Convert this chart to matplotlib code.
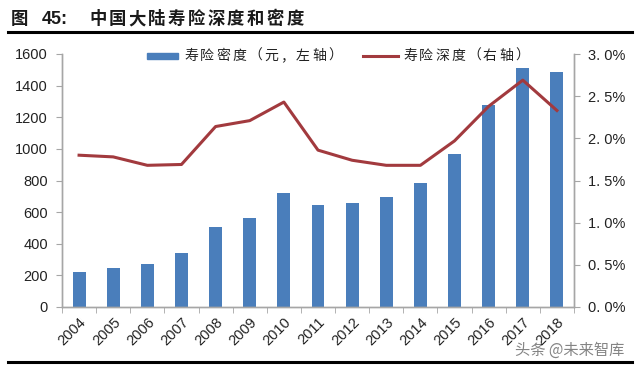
import matplotlib
matplotlib.use("Agg")
import matplotlib.pyplot as plt
from matplotlib.lines import Line2D
from matplotlib.patches import Rectangle
import numpy as np

plt.rcParams['font.family'] = ['Liberation Sans', 'Noto Sans CJK SC', 'DejaVu Sans']

years = ['2004', '2005', '2006', '2007', '2008', '2009', '2010', '2011',
         '2012', '2013', '2014', '2015', '2016', '2017', '2018']
density = [221, 248, 274, 340, 504, 565, 723, 646, 660, 698, 782, 965, 1277, 1514, 1487]
depth = [1.80, 1.78, 1.68, 1.69, 2.14, 2.21, 2.43, 1.86, 1.74, 1.68, 1.68, 1.97, 2.38, 2.69, 2.33]
left_ticks = [0, 200, 400, 600, 800, 1000, 1200, 1400, 1600]
right_ticks = [0.0, 0.5, 1.0, 1.5, 2.0, 2.5, 3.0]
right_labels = ['0. 0%', '0. 5%', '1. 0%', '1. 5%', '2. 0%', '2. 5%', '3. 0%']
title_num = '45:'
title_text = '中国大陆寿险深度和密度'
legend_bar = '寿险密度（元，左轴）'
legend_line = '寿险深度（右轴）'

W, H = 640, 365
fig = plt.figure(figsize=(W / 100, H / 100), dpi=100)
ax = fig.add_axes([62 / W, 1 - 307 / H, (574 - 62) / W, (307 - 54) / H])
ax2 = ax.twinx()

x = np.arange(len(years))
bar_color = '#4A7EBB'
line_color = '#A23A3E'
spine_color = '#A6A6A6'

ax.bar(x, density, width=0.38, color=bar_color, zorder=2)
ax2.plot(x, depth, color=line_color, lw=2.2, zorder=3)

ax.set_xlim(-0.48, 14.48)
ax.set_ylim(0, 1600)
ax2.set_ylim(0, 3.0)
ax.set_yticks(left_ticks)
ax.set_yticklabels([str(v) for v in left_ticks], fontsize=10.5, color='#222222')
ax2.set_yticks(right_ticks)
ax2.set_yticklabels(right_labels, fontsize=10.5, color='#222222')

ax.set_xticks(x)
ax.set_xticklabels(years, rotation=45, ha='right', va='top', rotation_mode='anchor',
                   fontsize=10.5, color='#222222')
ax.tick_params(axis='x', length=0, pad=6)
ax.set_xticks(np.arange(-0.5, 15, 1), minor=True)
ax.tick_params(axis='x', which='minor', length=4, color=spine_color, direction='out')
ax.tick_params(axis='y', length=4, color=spine_color, direction='out', pad=6)
ax2.tick_params(axis='y', length=4, color=spine_color, direction='out', pad=6)

for a in (ax, ax2):
    a.spines['top'].set_visible(False)
    for s in ('left', 'right', 'bottom'):
        a.spines[s].set_color(spine_color)
        a.spines[s].set_linewidth(1.0)
    a.set_facecolor('none')


def spaced(text, x0, y, step, size, color='#222222', weight='normal'):
    for i, ch in enumerate(text):
        fig.text((x0 + step * (i + 0.5)) / W, 1 - y / H, ch, fontsize=size, color=color,
                 ha='center', va='center', fontweight=weight,
                 family=['Noto Sans CJK SC', 'DejaVu Sans'])


# legend (drawn by hand to match the spaced lettering)
fig.add_artist(Rectangle((147 / W, 1 - 59 / H), 31 / W, 6 / H, color=bar_color,
                         transform=fig.transFigure))
spaced(legend_bar, 183, 56, 16, 10)
fig.add_artist(Line2D([363 / W, 398 / W], [1 - 56 / H, 1 - 56 / H], color=line_color, lw=2.2))
spaced(legend_line, 402, 56, 16, 10)

# title
fig.text(19 / W, 1 - 19 / H, '图', fontsize=12.5, color='#1A1A1A', ha='center', va='center',
         fontweight='bold', family=['Noto Sans CJK SC'])
fig.text(42 / W, 1 - 19 / H, title_num, fontsize=13, color='#1A1A1A', ha='left', va='center',
         fontweight='bold', family=['Liberation Sans'])
spaced(title_text, 88, 19, 19.7, 12.5, color='#1A1A1A', weight='bold')

fig.add_artist(Line2D([8 / W, 632 / W], [1 - 32 / H, 1 - 32 / H], color='black', lw=2.2))
fig.add_artist(Line2D([8 / W, 632 / W], [1 - 362 / H, 1 - 362 / H], color='black', lw=2.2))

fig.text(515 / W, 1 - 350 / H, '头条 @未来智库', fontsize=11, color='#333333', alpha=0.6,
         va='center', ha='left', family=['Noto Sans CJK SC'])

fig.savefig('out.png', dpi=100)
